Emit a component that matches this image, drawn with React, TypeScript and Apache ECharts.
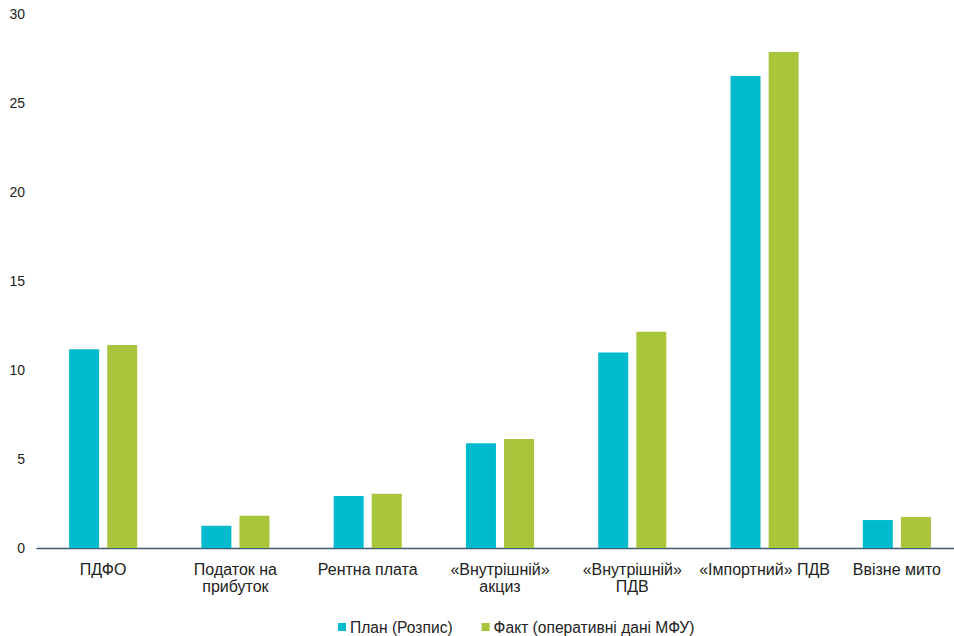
import React, { useEffect, useRef } from "react";
import * as echarts from "echarts";

const categories = [
  "ПДФО",
  "Податок на\nприбуток",
  "Рентна плата",
  "«Внутрішній»\nакциз",
  "«Внутрішній»\nПДВ",
  "«Імпортний» ПДВ",
  "Ввізне мито",
];
const planValues = [11.16, 1.25, 2.92, 5.88, 10.99, 26.52, 1.57];
const factValues = [11.4, 1.81, 3.05, 6.12, 12.15, 27.87, 1.74];
const seriesNames = ["План (Розпис)", "Факт (оперативні дані МФУ)"];
const colors = ["#00BACD", "#A8C53B"];

const FONT = "'Liberation Sans', Arial, sans-serif";

export default function App() {
  const ref = useRef<HTMLDivElement>(null);

  useEffect(() => {
    if (!ref.current) return;
    const chart = echarts.init(ref.current, null, { renderer: "svg" });
    chart.setOption({
      animation: false,
      color: colors,
      textStyle: { fontFamily: FONT },
      grid: { left: 37, right: 0, top: 14, height: 534, containLabel: false },
      legend: {
        left: 333,
        top: 614,
        itemWidth: 8,
        itemHeight: 8,
        itemGap: 29,
        itemStyle: { borderWidth: 0 },
        icon: "rect",
        textStyle: { fontFamily: FONT, fontSize: 15.6, color: "#222", padding: [0, 0, 0, -1] },
        data: seriesNames,
      },
      xAxis: {
        type: "category",
        data: categories,
        axisLine: { show: true, lineStyle: { color: "#3E5B73", width: 1.3 } },
        axisTick: { show: false },
        axisLabel: {
          margin: 13,
          fontFamily: FONT,
          fontSize: 16,
          color: "#222",
          lineHeight: 17,
          interval: 0,
        },
      },
      yAxis: {
        type: "value",
        min: 0,
        max: 30,
        interval: 5,
        splitLine: { show: false },
        axisLine: { show: false },
        axisTick: { show: false },
        axisLabel: { margin: 12, fontFamily: FONT, fontSize: 14, color: "#222" },
      },
      series: [
        {
          name: seriesNames[0],
          type: "bar",
          data: planValues,
          barWidth: 30,
          barGap: "27%",
        },
        {
          name: seriesNames[1],
          type: "bar",
          data: factValues,
          barWidth: 30,
          barGap: "27%",
        },
      ],
    });
    return () => chart.dispose();
  }, []);

  // The plot runs slightly past the right edge of the visible frame.
  return (
    <div
      style={{ position: "fixed", left: 0, top: 0, width: 954, height: 636, overflow: "hidden", background: "#fff" }}
    >
      <div ref={ref} style={{ width: 963, height: 636 }} />
    </div>
  );
}
